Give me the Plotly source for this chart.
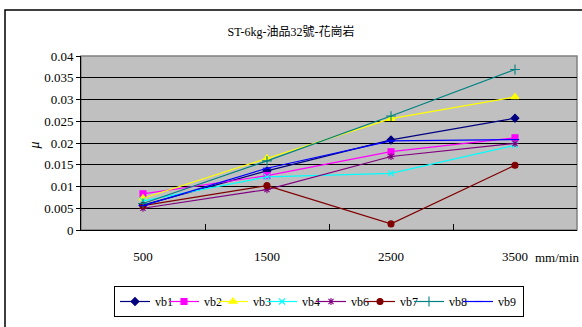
import plotly.graph_objects as go

# Sliding speed categories (mm/min)
speeds = ["500", "1500", "2500", "3500"]

# Friction coefficient per sample
vb1 = [0.0057, 0.0136, 0.0207, 0.0257]
vb2 = [0.0083, 0.0125, 0.0180, 0.0212]
vb3 = [0.0073, 0.0165, 0.0256, 0.0306]
vb4 = [0.0067, 0.0122, 0.0130, 0.0195]
vb6 = [0.0050, 0.0093, 0.0169, 0.0199]
vb7 = [0.0056, 0.0102, 0.0014, 0.0149]
vb8 = [0.0061, 0.0159, 0.0262, 0.0369]
vb9 = [0.0056, 0.0142, 0.0205, 0.0208]

y_ticks = [0, 0.005, 0.01, 0.015, 0.02, 0.025, 0.03, 0.035, 0.04]
y_tick_text = ["0", "0.005", "0.01", "0.015", "0.02", "0.025", "0.03", "0.035", "0.04"]

series = [
    ("vb1", vb1, "#000080", "diamond", 6),
    ("vb2", vb2, "#FF00FF", "square", 6),
    ("vb3", vb3, "#FFFF00", "triangle-up", 7),
    ("vb4", vb4, "#00FFFF", "x-thin-open", 6),
    ("vb6", vb6, "#800080", "asterisk-open", 6),
    ("vb7", vb7, "#800000", "circle", 6),
    ("vb8", vb8, "#008080", "cross-thin-open", 7),
    ("vb9", vb9, "#0000FF", "line-ew-open", 6),
]

SERIF = "Liberation Serif, Times New Roman, serif"

fig = go.Figure()
for i, (name, vals, color, symbol, size) in enumerate(series):
    last = i == len(series) - 1
    fig.add_trace(go.Scatter(
        x=speeds, y=vals, name=name, mode="lines+markers",
        line=dict(color=color, width=1.2),
        marker=dict(symbol=symbol, size=size, color=color,
                    line=dict(color=color, width=1.1)),
        # the final legend entry needs room for its full label
        legendwidth=20 if last else None,
    ))

fig.update_layout(
    width=582, height=327,
    margin=dict(l=81, r=5, t=56, b=97),
    paper_bgcolor="white",
    plot_bgcolor="#C0C0C0",
    font=dict(family=SERIF, size=13, color="black"),
    title=dict(text="ST-6kg-油品32號-花崗岩", x=0.5, xanchor="center",
               y=1 - 32 / 327, yanchor="middle",
               font=dict(family="Liberation Serif, Noto Sans CJK TC, serif", size=12)),
    showlegend=True,
    legend=dict(orientation="h", x=(114 - 81) / 496, xanchor="left",
                y=(230 - 286) / 174, yanchor="top",
                bgcolor="white", bordercolor="black", borderwidth=1,
                font=dict(family=SERIF, size=12),
                itemwidth=30, entrywidth=4, tracegroupgap=0),
    xaxis=dict(type="category", range=[-0.5, 3.5], showgrid=False,
               showline=True, linecolor="black", linewidth=1,
               ticks="inside", tickson="boundaries", ticklen=6,
               tickcolor="black", ticklabelstandoff=14, zeroline=False,
               fixedrange=True),
    yaxis=dict(range=[0, 0.04], tickvals=y_ticks, ticktext=y_tick_text,
               showgrid=True, gridcolor="black", gridwidth=1,
               showline=True, linecolor="black", linewidth=1,
               ticks="outside", ticklen=4, tickcolor="black",
               zeroline=False, fixedrange=True),
    shapes=[
        # outer chart frame
        dict(type="rect", xref="paper", yref="paper",
             x0=(5 - 81) / 496, x1=(600 - 81) / 496,
             y0=(230 - 340) / 174, y1=(230 - 10) / 174,
             line=dict(color="black", width=1.5), layer="below"),
        # plot area frame
        dict(type="rect", xref="paper", yref="paper", x0=0, x1=1, y0=0, y1=1,
             line=dict(color="#808080", width=1.5), layer="below"),
    ],
    annotations=[
        dict(text="<i>μ</i>", xref="paper", yref="paper",
             x=(24 - 81) / 496, y=(230 - 146) / 174, showarrow=False,
             textangle=-90, font=dict(family=SERIF, size=14)),
        dict(text="mm/min", xref="paper", yref="paper",
             x=(557 - 81) / 496, y=(230 - 257) / 174, showarrow=False,
             xanchor="center", yanchor="middle",
             font=dict(family=SERIF, size=13)),
    ],
)

fig.write_html("out.html")
